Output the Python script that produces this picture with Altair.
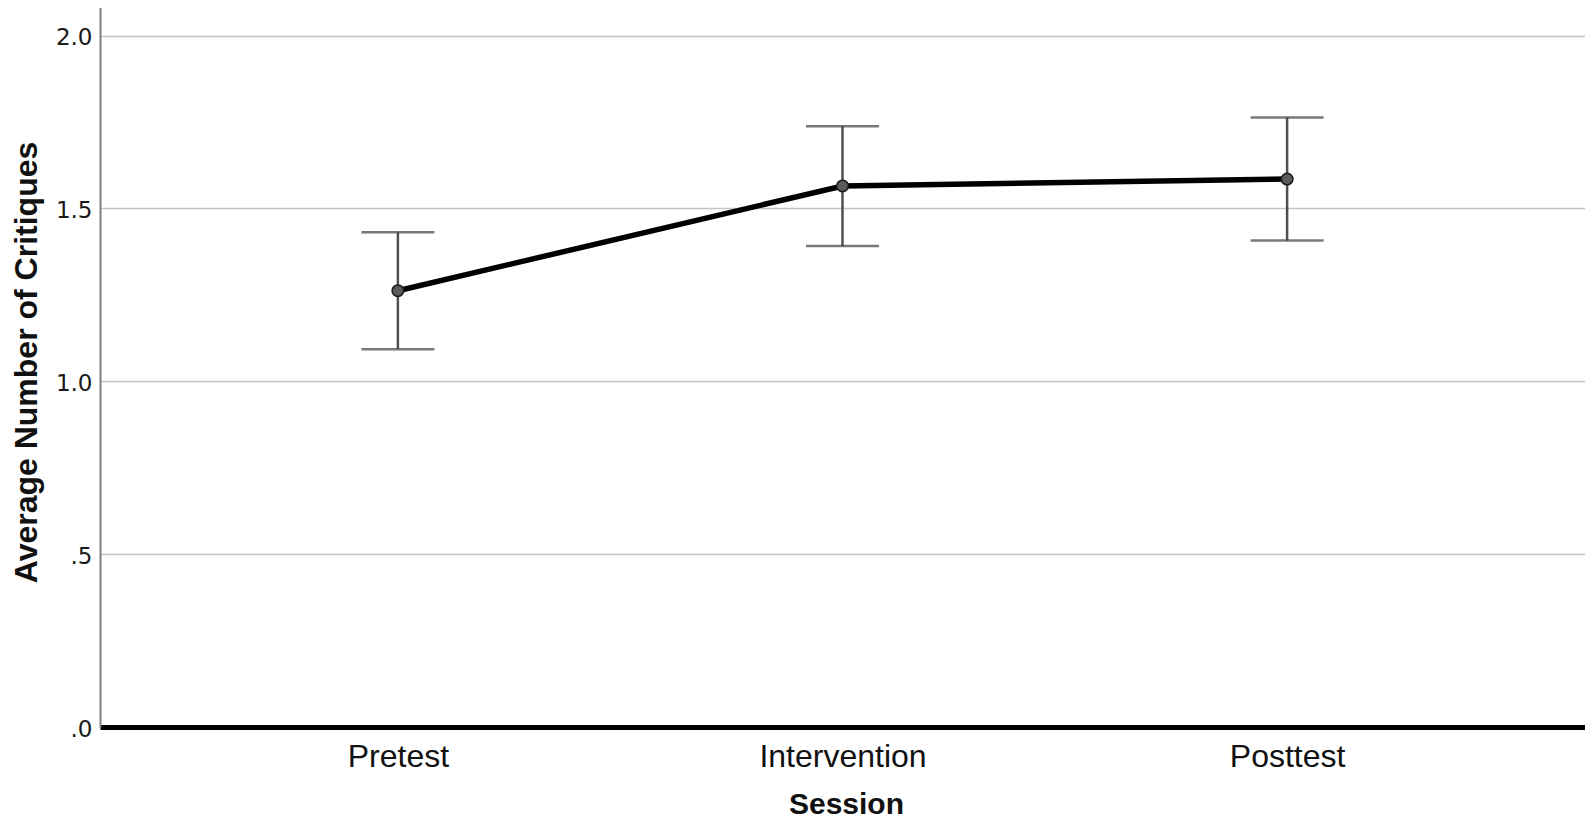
import altair as alt
import pandas as pd

sessions = ["Pretest", "Intervention", "Posttest"]
means = [1.262, 1.565, 1.585]
lower = [1.093, 1.391, 1.407]
upper = [1.431, 1.738, 1.763]
y_ticks = [0.0, 0.5, 1.0, 1.5, 2.0]

df = pd.DataFrame({"Session": sessions, "mean": means, "lo": lower, "hi": upper})

x_scale = alt.Scale(type="point", padding=0.67)
x_axis = alt.Axis(
    title="Session",
    ticks=False,
    tickSize=0,
    grid=False,
    domainColor="#000000",
    domainWidth=5,
    labelFont="Liberation Sans",
    labelFontSize=32,
    labelColor="#111111",
    labelAngle=0,
    labelAlign="center",
    labelBaseline="top",
    labelPadding=14,
    titleFont="Liberation Sans",
    titleFontWeight="bold",
    titleFontSize=30,
    titleColor="#111111",
    titleBaseline="alphabetic",
    titleAlign="center",
    titleX=746,
    titleY=86,
)
x_enc = alt.X("Session:N", sort=sessions, scale=x_scale, axis=x_axis)

y_scale = alt.Scale(domain=[0, 2.1], nice=False, zero=True)
y_axis = alt.Axis(
    title="Average Number of Critiques",
    values=y_ticks,
    labelExpr="datum.value == 0 ? '.0' : datum.value == 0.5 ? '.5' : format(datum.value, '.1f')",
    ticks=False,
    tickSize=0,
    grid=True,
    gridColor="#c4c4c4",
    gridWidth=1.5,
    domainColor="#808080",
    domainWidth=2,
    labelFont="DejaVu Sans",
    labelFontSize=23,
    labelColor="#1a1a1a",
    labelPadding=8,
    labelOffset=2,
    titleFont="Liberation Sans",
    titleFontWeight="bold",
    titleFontSize=32,
    titleColor="#111111",
    titleAngle=270,
    titleBaseline="alphabetic",
    titleAlign="center",
    titleX=-64,
    titleY=361,
)

base = alt.Chart(df)

line = base.mark_line(color="#000000", strokeWidth=5.5).encode(
    x=x_enc, y=alt.Y("mean:Q", scale=y_scale, axis=y_axis)
)

bars = base.mark_rule(color="#505050", strokeWidth=2.5).encode(
    x=x_enc, y=alt.Y("lo:Q", scale=y_scale, axis=y_axis), y2="hi:Q"
)

cap_lo = base.mark_tick(color="#404040", size=73, thickness=2.5, orient="horizontal").encode(
    x=x_enc, y=alt.Y("lo:Q", scale=y_scale, axis=y_axis)
)
cap_hi = base.mark_tick(color="#404040", size=73, thickness=2.5, orient="horizontal").encode(
    x=x_enc, y=alt.Y("hi:Q", scale=y_scale, axis=y_axis)
)

points = base.mark_point(
    filled=True, fill="#5a5a5a", stroke="#1a1a1a", strokeWidth=1.5, size=135, opacity=1
).encode(x=x_enc, y=alt.Y("mean:Q", scale=y_scale, axis=y_axis))

chart = (
    alt.layer(bars, cap_lo, cap_hi, line, points)
    .properties(
        width=1485,
        height=726,
        autosize=alt.AutoSizeParams(type="none"),
        padding={"left": 92, "top": -7, "right": 0, "bottom": 93},
    )
    .configure_view(stroke=None)
    .configure(background="white")
)

chart.save("out.html", embed_options={"renderer": "svg", "actions": False})
